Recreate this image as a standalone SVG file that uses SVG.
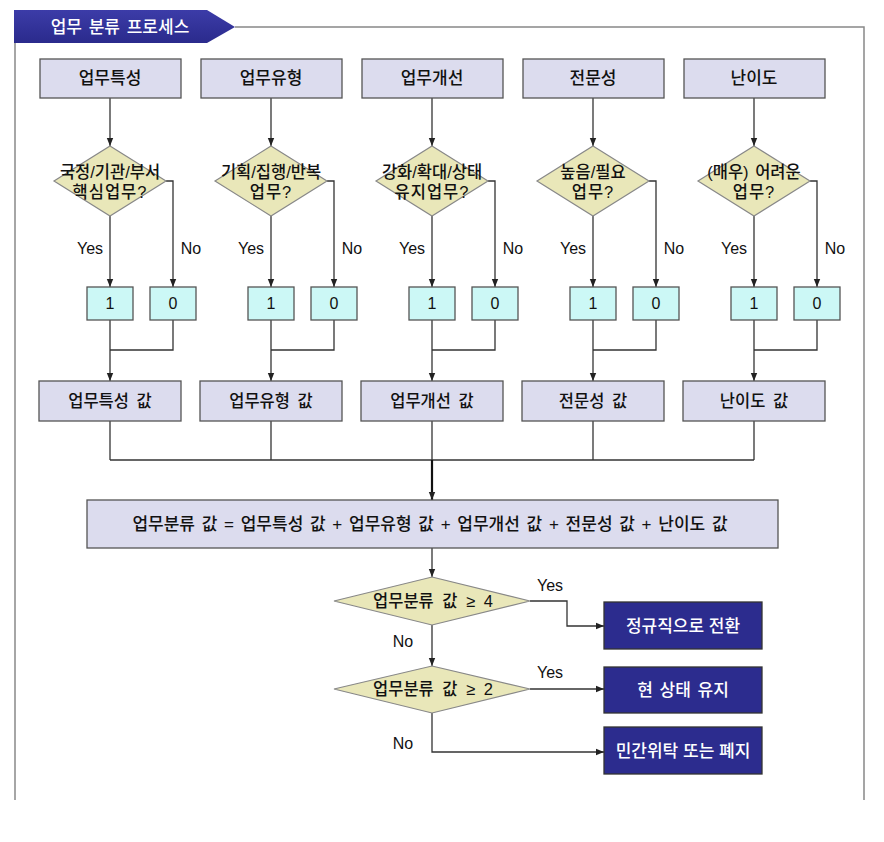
<svg xmlns="http://www.w3.org/2000/svg" width="884" height="842" viewBox="0 0 884 842">
<defs>
<marker id="arr" viewBox="0 0 10 10" refX="10" refY="5" markerUnits="userSpaceOnUse" markerWidth="8" markerHeight="8" orient="auto"><path d="M0,1 L10,5 L0,9 z" fill="#222"/></marker>
<linearGradient id="tabg" x1="0" y1="0" x2="0" y2="1"><stop offset="0" stop-color="#3c3ca8"/><stop offset="1" stop-color="#2a2a8c"/></linearGradient>
</defs>
<style>
.k{font-family:"Liberation Sans","Noto Sans CJK KR",sans-serif;font-size:16.5px;font-weight:500;fill:#111;text-anchor:middle}
.t{font-size:17px}
.n{font-family:"Liberation Sans",Arial,sans-serif;font-size:16px;fill:#111;text-anchor:middle}
.l{font-family:"Liberation Sans",Arial,sans-serif;font-size:16px;fill:#111;text-anchor:middle}
.w{font-family:"Liberation Sans","Noto Sans CJK KR",sans-serif;font-size:17px;font-weight:500;fill:#fff;text-anchor:middle}
.box{fill:#dcdcee;stroke:#555;stroke-width:1.3}
.bin{fill:#ccf8f6;stroke:#555;stroke-width:1.3}
.dia{fill:#e9e7b9;stroke:#888;stroke-width:1.2}
.res{fill:#2c2c8e;stroke:#333;stroke-width:1.3}
.c{fill:none;stroke:#333;stroke-width:1.3}
.frame{fill:none;stroke:#888;stroke-width:1.5}
</style>
<rect width="884" height="842" fill="#fff"/>
<g id="frame">
<path class="frame" d="M235,27 L864,27 L864,800"/>
<path class="frame" d="M15,43 L15,800"/>
</g>
<g id="header">
<path d="M14,10 L207,10 L235,27 L207,43 L14,43 z" fill="url(#tabg)"/>
<text class="w" x="120" y="33" word-spacing="2">업무 분류 프로세스</text>
</g>
<g id="connectors">
<path class="c" d="M110,98 V146" marker-end="url(#arr)"/>
<path class="c" d="M110,216 V287" marker-end="url(#arr)"/>
<path class="c" d="M166,181 H173 V287" marker-end="url(#arr)"/>
<path class="c" d="M110,320 V381" marker-end="url(#arr)"/>
<path class="c" d="M173,320 V350 H110"/>
<path class="c" d="M110,421 V460"/>
<path class="c" d="M271,98 V146" marker-end="url(#arr)"/>
<path class="c" d="M271,216 V287" marker-end="url(#arr)"/>
<path class="c" d="M327,181 H334 V287" marker-end="url(#arr)"/>
<path class="c" d="M271,320 V381" marker-end="url(#arr)"/>
<path class="c" d="M334,320 V350 H271"/>
<path class="c" d="M271,421 V460"/>
<path class="c" d="M432,98 V146" marker-end="url(#arr)"/>
<path class="c" d="M432,216 V287" marker-end="url(#arr)"/>
<path class="c" d="M488,181 H495 V287" marker-end="url(#arr)"/>
<path class="c" d="M432,320 V381" marker-end="url(#arr)"/>
<path class="c" d="M495,320 V350 H432"/>
<path class="c" d="M432,421 V460"/>
<path class="c" d="M593,98 V146" marker-end="url(#arr)"/>
<path class="c" d="M593,216 V287" marker-end="url(#arr)"/>
<path class="c" d="M649,181 H656 V287" marker-end="url(#arr)"/>
<path class="c" d="M593,320 V381" marker-end="url(#arr)"/>
<path class="c" d="M656,320 V350 H593"/>
<path class="c" d="M593,421 V460"/>
<path class="c" d="M754,98 V146" marker-end="url(#arr)"/>
<path class="c" d="M754,216 V287" marker-end="url(#arr)"/>
<path class="c" d="M810,181 H817 V287" marker-end="url(#arr)"/>
<path class="c" d="M754,320 V381" marker-end="url(#arr)"/>
<path class="c" d="M817,320 V350 H754"/>
<path class="c" d="M754,421 V460"/>
<path class="c" d="M110,460 H754"/>
<path d="M432,460 V500" fill="none" stroke="#111" stroke-width="2.2" marker-end="url(#arr)"/>
<path class="c" d="M432,548 V577" marker-end="url(#arr)"/>
<path class="c" d="M530,601 H567 V626 H604" marker-end="url(#arr)"/>
<path class="c" d="M432,625 V666" marker-end="url(#arr)"/>
<path class="c" d="M530,689 H604" marker-end="url(#arr)"/>
<path class="c" d="M432,713 V752 H604" marker-end="url(#arr)"/>
<text class="l" x="90" y="254">Yes</text><text class="l" x="191" y="254">No</text>
<text class="l" x="251" y="254">Yes</text><text class="l" x="352" y="254">No</text>
<text class="l" x="412" y="254">Yes</text><text class="l" x="513" y="254">No</text>
<text class="l" x="573" y="254">Yes</text><text class="l" x="674" y="254">No</text>
<text class="l" x="734" y="254">Yes</text><text class="l" x="835" y="254">No</text>
<text class="l" x="550" y="591">Yes</text>
<text class="l" x="403" y="647">No</text>
<text class="l" x="550" y="678">Yes</text>
<text class="l" x="403" y="749">No</text>
</g>
<g id="n-top1"><rect class="box" x="40" y="59" width="141" height="39"/><text class="k t" x="110" y="84">업무특성</text></g>
<g id="n-top2"><rect class="box" x="201" y="59" width="141" height="39"/><text class="k t" x="271" y="84">업무유형</text></g>
<g id="n-top3"><rect class="box" x="362" y="59" width="141" height="39"/><text class="k t" x="432" y="84">업무개선</text></g>
<g id="n-top4"><rect class="box" x="523" y="59" width="141" height="39"/><text class="k t" x="593" y="84">전문성</text></g>
<g id="n-top5"><rect class="box" x="684" y="59" width="141" height="39"/><text class="k t" x="754" y="84">난이도</text></g>
<g id="n-dia1"><polygon class="dia" points="110,146 166,181 110,216 54,181"/><text class="k" x="110" y="178">국정/기관/부서</text><text class="k" x="110" y="198" letter-spacing="1">핵심업무?</text></g>
<g id="n-dia2"><polygon class="dia" points="271,146 327,181 271,216 215,181"/><text class="k" x="271" y="178">기획/집행/반복</text><text class="k" x="271" y="198" letter-spacing="1">업무?</text></g>
<g id="n-dia3"><polygon class="dia" points="432,146 488,181 432,216 376,181"/><text class="k" x="432" y="178">강화/확대/상태</text><text class="k" x="432" y="198" letter-spacing="1">유지업무?</text></g>
<g id="n-dia4"><polygon class="dia" points="593,146 649,181 593,216 537,181"/><text class="k" x="593" y="178">높음/필요</text><text class="k" x="593" y="198" letter-spacing="1">업무?</text></g>
<g id="n-dia5"><polygon class="dia" points="754,146 810,181 754,216 698,181"/><text class="k" x="754" y="178" word-spacing="2">(매우) 어려운</text><text class="k" x="754" y="198" letter-spacing="1">업무?</text></g>
<g id="n-b1"><rect class="bin" x="87" y="287" width="46" height="33"/><text class="n" x="110" y="309">1</text><rect class="bin" x="150" y="287" width="46" height="33"/><text class="n" x="173" y="309">0</text></g>
<g id="n-b2"><rect class="bin" x="248" y="287" width="46" height="33"/><text class="n" x="271" y="309">1</text><rect class="bin" x="311" y="287" width="46" height="33"/><text class="n" x="334" y="309">0</text></g>
<g id="n-b3"><rect class="bin" x="409" y="287" width="46" height="33"/><text class="n" x="432" y="309">1</text><rect class="bin" x="472" y="287" width="46" height="33"/><text class="n" x="495" y="309">0</text></g>
<g id="n-b4"><rect class="bin" x="570" y="287" width="46" height="33"/><text class="n" x="593" y="309">1</text><rect class="bin" x="633" y="287" width="46" height="33"/><text class="n" x="656" y="309">0</text></g>
<g id="n-b5"><rect class="bin" x="731" y="287" width="46" height="33"/><text class="n" x="754" y="309">1</text><rect class="bin" x="794" y="287" width="46" height="33"/><text class="n" x="817" y="309">0</text></g>
<g id="n-v1"><rect class="box" x="39" y="381" width="142" height="40"/><text class="k" x="110" y="407" word-spacing="3">업무특성 값</text></g>
<g id="n-v2"><rect class="box" x="200" y="381" width="142" height="40"/><text class="k" x="271" y="407" word-spacing="3">업무유형 값</text></g>
<g id="n-v3"><rect class="box" x="361" y="381" width="142" height="40"/><text class="k" x="432" y="407" word-spacing="3">업무개선 값</text></g>
<g id="n-v4"><rect class="box" x="522" y="381" width="142" height="40"/><text class="k" x="593" y="407" word-spacing="3">전문성 값</text></g>
<g id="n-v5"><rect class="box" x="683" y="381" width="142" height="40"/><text class="k" x="754" y="407" word-spacing="3">난이도 값</text></g>
<g id="n-sum"><rect class="box" x="87" y="500" width="691" height="48"/><text class="k t" x="430" y="530" word-spacing="2">업무분류 값 = 업무특성 값 + 업무유형 값 + 업무개선 값 + 전문성 값 + 난이도 값</text></g>
<g id="n-d4"><polygon class="dia" points="432,577 530,601 432,625 334,601"/><text class="k" x="433" y="607" word-spacing="4">업무분류 값  ≥ 4</text></g>
<g id="n-d2"><polygon class="dia" points="432,666 530,689 432,713 334,689"/><text class="k" x="433" y="695" word-spacing="4">업무분류 값  ≥ 2</text></g>
<g id="n-r1"><rect class="res" x="604" y="602" width="158" height="47"/><text class="w" x="683" y="632">정규직으로 전환</text></g>
<g id="n-r2"><rect class="res" x="604" y="667" width="158" height="46"/><text class="w" x="683" y="696" word-spacing="2">현 상태 유지</text></g>
<g id="n-r3"><rect class="res" x="604" y="727" width="158" height="47"/><text class="w" x="683" y="757">민간위탁 또는 폐지</text></g>
</svg>
